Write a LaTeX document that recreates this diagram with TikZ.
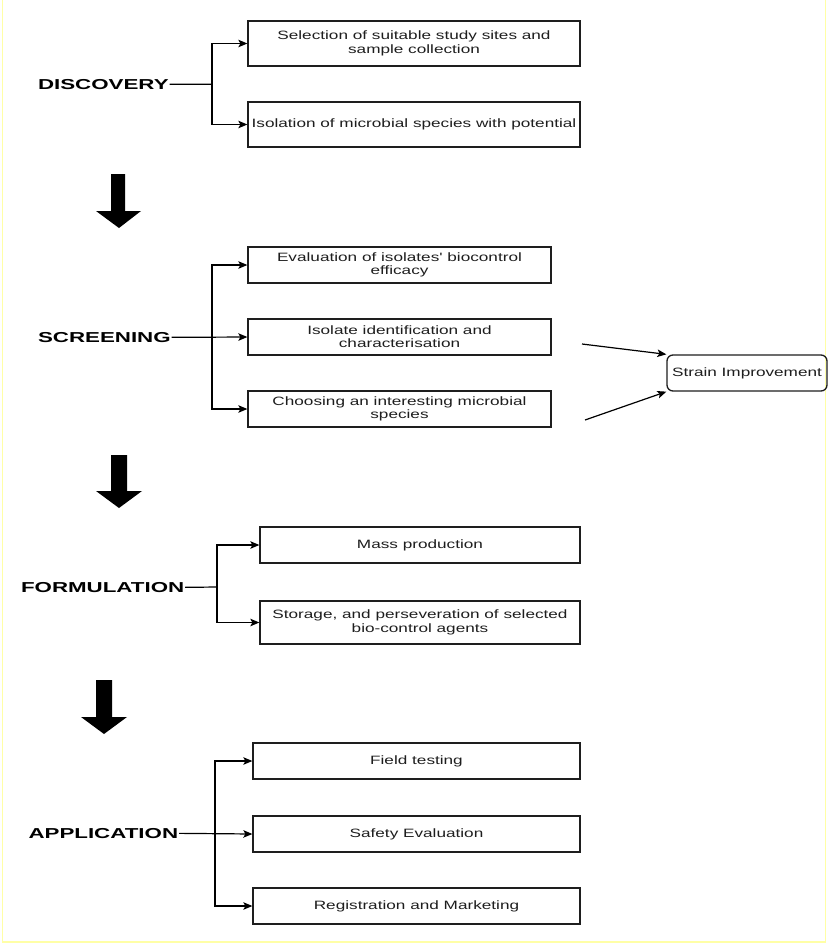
\documentclass[tikz,border=0pt]{standalone}
\usepackage{fontspec}
\setmainfont{Liberation Sans}
\newfontfamily\boxfont[FakeStretch=1.42]{Liberation Sans}
\newfontfamily\labfont[FakeStretch=1.55]{Liberation Sans}
\usetikzlibrary{arrows.meta}
\definecolor{frameyellow}{HTML}{FFFFA6}
\definecolor{ink}{HTML}{1E1E1E}
\tikzset{
  stepbox/.style={draw=ink, line width=1.3pt, inner sep=0pt, align=center,
    text=ink, font=\boxfont\fontsize{12.1}{13.3}\selectfont},
  phase/.style={anchor=base west, inner sep=0.8pt, text=black,
    font=\labfont\bfseries\fontsize{14.4}{16}\selectfont},
  conn/.style={draw=black, line width=1.2pt},
  tip/.style={conn, -{Stealth[length=9pt,width=7.5pt,inset=2pt]}},
  bigarrow/.style={fill=black, draw=none}
}
\begin{document}
\begin{tikzpicture}[x=1pt, y=-1pt]
\useasboundingbox (0,0) rectangle (829,946);
\fill[white] (0,0) rectangle (829,946);
\draw[frameyellow, line width=1.6pt] (2.5,0) -- (2.5,942) -- (825.5,942) -- (825.5,0);

% ---------- DISCOVERY ----------
\node[phase] (dlab) at (37,89.3) {DISCOVERY};
\node[stepbox, minimum width=332pt, minimum height=45pt] (b1) at (414,43.5)
  {Selection of suitable study sites and\\sample collection};
\node[stepbox, minimum width=332pt, minimum height=45pt] (b2) at (414,124.5)
  {Isolation of microbial species with potential};
\coordinate (dj) at (212,84.3);
\draw[conn] (dlab.east) -- (dj);
\draw[tip] (dj) |- (b1.west);
\draw[tip] (dj) |- (b2.west);

\fill[bigarrow] (111,174) -- (125,174) -- (125,211) -- (141,211) -- (119,228) -- (96,211) -- (111,211) -- cycle;

% ---------- SCREENING ----------
\node[phase] (slab) at (37,342.3) {SCREENING};
\node[stepbox, minimum width=303pt, minimum height=36pt] (s1) at (399.5,265)
  {Evaluation of isolates' biocontrol\\efficacy};
\node[stepbox, minimum width=303pt, minimum height=36pt] (s2) at (399.5,337)
  {Isolate identification and\\characterisation};
\node[stepbox, minimum width=303pt, minimum height=36pt] (s3) at (399.5,409)
  {Choosing an interesting microbial\\species};
\node[stepbox, rounded corners=6pt, minimum width=160pt, minimum height=36pt] (strain) at (747,373)
  {Strain Improvement};
\coordinate (sj) at (212,337);
\draw[tip] (slab.east) -- (s2.west);
\draw[tip] (sj) |- (s1.west);
\draw[tip] (sj) |- (s3.west);
\coordinate (sf1) at (582,344);
\coordinate (sf2) at (585,420);
\draw[tip] (sf1) -- (strain.north west);
\draw[tip] (sf2) -- (strain.south west);

\fill[bigarrow] (111,455) -- (127,455) -- (127,491) -- (142,491) -- (119,508) -- (96,491) -- (111,491) -- cycle;

% ---------- FORMULATION ----------
\node[phase] (flab) at (20,592.3) {FORMULATION};
\node[stepbox, minimum width=320pt, minimum height=36pt] (f1) at (420,545)
  {Mass production};
\node[stepbox, minimum width=320pt, minimum height=43pt] (f2) at (420,622.5)
  {Storage, and perseveration of selected\\bio-control agents};
\coordinate (fj) at (217,587);
\draw[conn] (flab.east) -- (fj);
\draw[tip] (fj) |- (f1.west);
\draw[tip] (fj) |- (f2.west);

\fill[bigarrow] (96,680) -- (112,680) -- (112,717) -- (127,717) -- (104,734) -- (81,717) -- (96,717) -- cycle;

% ---------- APPLICATION ----------
\node[phase] (alab) at (27.5,838.3) {APPLICATION};
\node[stepbox, minimum width=327pt, minimum height=36pt] (a1) at (416.5,761)
  {Field testing};
\node[stepbox, minimum width=327pt, minimum height=36pt] (a2) at (416.5,834)
  {Safety Evaluation};
\node[stepbox, minimum width=327pt, minimum height=36pt] (a3) at (416.5,906)
  {Registration and Marketing};
\coordinate (aj) at (215,834);
\draw[tip] (alab.east) -- (a2.west);
\draw[tip] (aj) |- (a1.west);
\draw[tip] (aj) |- (a3.west);
\end{tikzpicture}
\end{document}
